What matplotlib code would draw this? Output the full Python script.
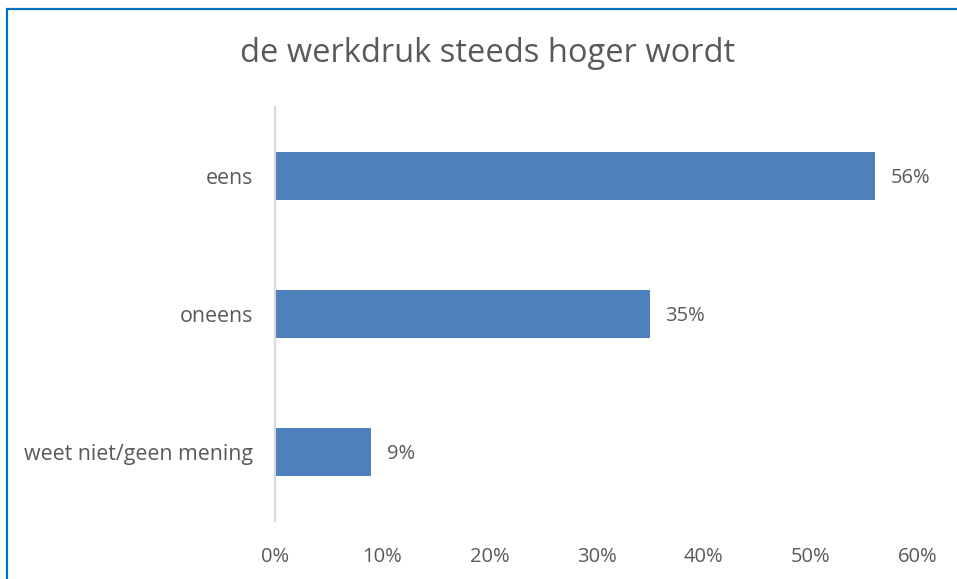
import matplotlib
matplotlib.use("Agg")
import matplotlib.pyplot as plt
from matplotlib.patches import Rectangle
from matplotlib.ticker import FuncFormatter

plt.rcParams['font.family'] = ['Open Sans', 'DejaVu Sans']

title = "de werkdruk steeds hoger wordt"
categories = ["eens", "oneens", "weet niet/geen mening"]
values = [56, 35, 9]
xticks = [0, 10, 20, 30, 40, 50, 60]

textColor = "#595959"
barColor = "#4F81BD"

fig = plt.figure(figsize=(9.57, 5.79), dpi=100)
ax = fig.add_axes([0.2874, 0.1002, 0.6719, 0.715])

y = list(range(len(categories)))
ax.barh(y, values, height=0.347, color=barColor)
ax.set_ylim(len(categories) - 0.5, -0.5)
ax.set_xlim(0, 60)

for yi, v in zip(y, values):
    ax.annotate("{}%".format(v), (v, yi), xytext=(11, -1.5), textcoords="offset points",
                va="center", ha="left", fontsize=14.5, color=textColor)

ax.set_yticks(y)
ax.set_yticklabels(categories, fontsize=15.4, color=textColor)
ax.set_xticks(xticks)
ax.xaxis.set_major_formatter(FuncFormatter(lambda v, p: "{:.0f}%".format(v)))
ax.tick_params(axis="x", length=0, pad=19, labelsize=14.5, labelcolor=textColor)
ax.tick_params(axis="y", length=0, pad=16, labelsize=15.4, labelcolor=textColor)

for side in ("top", "right", "bottom"):
    ax.spines[side].set_visible(False)
ax.spines["left"].set_color("#D9D9D9")
ax.spines["left"].set_linewidth(1.5)

fig.text(0.509, 0.908, title, ha="center", va="center", fontsize=23.5, color=textColor)

# blue frame, runs off the right and bottom edges
fig.patches.append(Rectangle((7.5 / 957, -0.05), 1.2, 1 - 8.5 / 579 + 0.05,
                             transform=fig.transFigure, fill=False,
                             edgecolor="#0070C0", linewidth=1.6))

fig.savefig("out.png", dpi=100)
